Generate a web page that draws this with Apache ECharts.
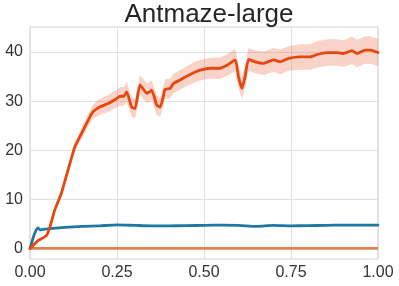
<!DOCTYPE html>
<html><head><meta charset="utf-8">
<script src="https://cdn.jsdelivr.net/npm/echarts@6/dist/echarts.min.js"></script>
<style>html,body{margin:0;padding:0;background:#fff}#c{width:399px;height:286px}</style>
</head><body><div id="c"></div>
<script>
var title = 'Antmaze-large';
var xTicks = [0, 0.25, 0.5, 0.75, 1.0];
var yTicks = [0, 10, 20, 30, 40];

var redT = [0,0.023,0.047,0.057,0.071,0.09,0.109,0.129,0.148,0.167,0.181,0.2,0.224,0.248,0.259,0.27,0.278,0.292,0.302,0.316,0.336,0.35,0.364,0.374,0.383,0.388,0.403,0.412,0.431,0.451,0.47,0.489,0.518,0.546,0.566,0.59,0.599,0.609,0.618,0.628,0.647,0.671,0.7,0.719,0.743,0.777,0.805,0.825,0.853,0.882,0.901,0.925,0.94,0.963,0.978,0.992,1.0];
var redMean = [0,1.6,2.6,4.3,7.8,11.2,15.9,20.7,23.4,26.1,27.8,28.8,29.5,30.5,31.0,31.0,31.9,28.8,28.5,33.3,31.6,32.2,29.2,28.8,30.9,32.4,32.6,33.6,34.3,35.1,35.8,36.3,36.7,36.7,37.3,38.4,35.0,32.6,35.0,38.5,38.0,37.7,38.4,38.0,38.7,39.0,39.0,39.5,39.9,39.9,39.7,40.3,39.7,40.4,40.4,40.1,39.9];
var redSpread = [0,0.2,0.3,0.4,0.5,0.6,0.7,0.9,1.1,1.3,1.5,1.6,1.7,1.8,1.9,1.9,2.0,2.0,2.0,2.0,2.0,2.0,2.0,2.0,2.0,2.0,2.0,2.0,2.0,2.0,2.1,2.1,2.1,2.2,2.2,2.3,2.3,2.2,2.3,2.3,2.3,2.4,2.4,2.5,2.5,2.6,2.6,2.7,2.7,2.7,2.7,2.8,2.8,2.8,2.8,2.8,2.8];

var blueT = [0,0.012,0.022,0.03,0.05,0.1,0.15,0.2,0.25,0.3,0.35,0.4,0.45,0.5,0.55,0.6,0.65,0.7,0.75,0.8,0.85,0.9,0.95,1.0];
var blueV = [0,2.8,4.2,3.8,4.0,4.3,4.5,4.6,4.8,4.7,4.6,4.6,4.65,4.7,4.75,4.7,4.5,4.7,4.6,4.65,4.7,4.75,4.75,4.75];

var orangeT = [0, 1.0];
var orangeV = [0, 0];

function pairs(t, v){ return t.map(function(x,i){return [x, v[i]];}); }
var bandData = redT.map(function(x,i){return [x, redMean[i]-redSpread[i], redMean[i]+redSpread[i]];});

var chart = echarts.init(document.getElementById('c'), null, {renderer:'canvas'});
chart.setOption({
  animation:false,
  backgroundColor:'#fff',
  title:{text:title,left:204,top:-3,textAlign:'center',textStyle:{fontFamily:'Liberation Sans, Arial, sans-serif',fontSize:26,fontWeight:'normal',color:'#262626'}},
  grid:{left:30,right:21,top:27,bottom:27,show:true,borderColor:'#d4d4d4',borderWidth:1.2,backgroundColor:'transparent'},
  xAxis:{type:'value',min:0,max:1,interval:0.25,
    axisLine:{show:false},axisTick:{show:false},
    splitLine:{show:true,lineStyle:{color:'#e0e0e0',width:1}},
    axisLabel:{margin:6,fontFamily:'Liberation Sans, Arial, sans-serif',fontSize:16,color:'#333',
      formatter:function(v){return v.toFixed(2);}}},
  yAxis:{type:'value',min:-2.15,max:45.1,
    axisLine:{show:false},
    axisTick:{show:false,customValues:yTicks},
    splitLine:{show:true,lineStyle:{color:'#e0e0e0',width:1}},
    axisLabel:{customValues:yTicks,margin:7,fontFamily:'Liberation Sans, Arial, sans-serif',fontSize:16,color:'#333'}},
  series:[
    {type:'custom',data:bandData,silent:true,z:1,
      encode:{x:0,y:[1,2]},
      renderItem:function(params, api){
        if(params.dataIndex!==0) return null;
        var up=[], lo=[];
        for(var i=0;i<bandData.length;i++){
          up.push(api.coord([bandData[i][0], bandData[i][2]]));
          lo.push(api.coord([bandData[i][0], bandData[i][1]]));
        }
        var pts = up.concat(lo.reverse());
        return {type:'polygon',shape:{points:pts,smooth:0},style:{fill:'rgba(236,110,70,0.3)',stroke:null}};
      }},
    {type:'line',data:pairs(blueT,blueV),symbol:'none',smooth:0.2,lineStyle:{color:'#1f78a1',width:2.8,join:'round',cap:'round'},z:3},
    {type:'line',data:pairs(orangeT,orangeV),symbol:'none',lineStyle:{color:'#e3804f',width:2.8},z:4},
    {type:'line',data:pairs(redT,redMean),symbol:'none',smooth:0.15,lineStyle:{color:'#e4470f',width:2.8,join:'round',cap:'round'},z:5}
  ]
});
</script></body></html>
